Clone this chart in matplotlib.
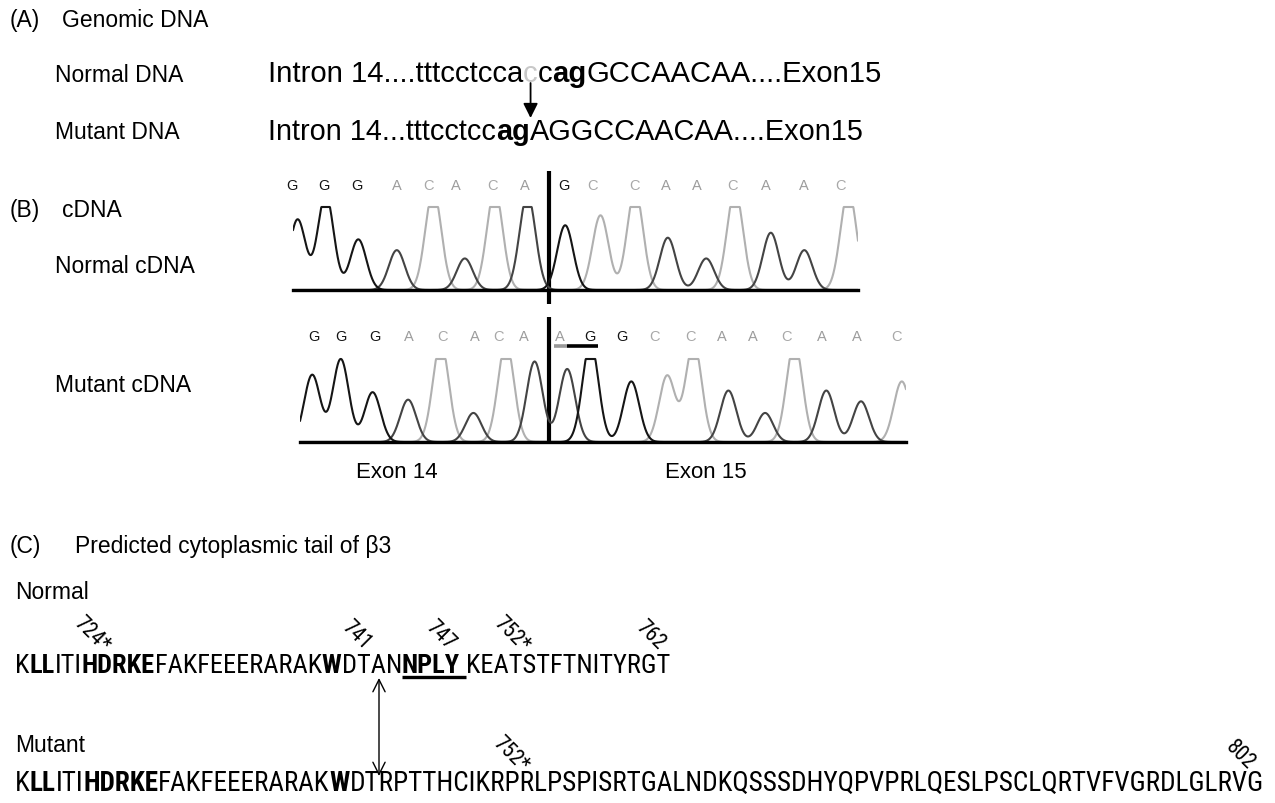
import matplotlib
matplotlib.use("Agg")
import matplotlib.pyplot as plt
import numpy as np
from matplotlib import font_manager
from matplotlib.font_manager import FontProperties

plt.rcParams['font.family'] = ['Liberation Sans', 'DejaVu Sans']

# ---------------- data ----------------
# (A) genomic DNA
normal_dna_runs = [("Intron 14....tttcctcca", "normal", "black"),
                   ("c", "normal", "#c8c8c8"),
                   ("c", "normal", "black"),
                   ("ag", "bold", "black"),
                   ("GCCAACAA....Exon15", "normal", "black")]
mutant_dna_runs = [("Intron 14...tttcctcc", "normal", "black"),
                   ("ag", "bold", "black"),
                   ("AGGCCAACAA....Exon15", "normal", "black")]

# (B) chromatograms: called bases and peaks (trace position, relative height)
normal_bases = list("GGGACACAGCCAACAAC")
normal_base_pos = [292, 324, 357, 397, 429, 456, 493, 525, 564, 593, 635, 666, 697, 733, 766, 804, 841]
normal_peak_pos = [297.6, 325.7, 358.3, 396.8, 433.3, 464.8, 494.8, 527.5, 565.2, 600.5,
                   635.1, 667.8, 706.2, 735.0, 770.8, 804.3, 848.5]
normal_peak_h = [0.85, 1.15, 0.61, 0.48, 1.2, 0.38, 1.2, 1.15, 0.78, 0.9,
                 1.2, 0.63, 0.38, 1.2, 0.69, 0.48, 1.2]

mutant_bases = list("GGGACACAAGGCCAACAAC")
mutant_base_pos = [314, 341, 375, 409, 442, 475, 498, 524, 560, 590, 622, 654, 691, 722, 753, 786, 822, 857, 896]
mutant_peak_pos = [312.2, 340.8, 372.6, 408.1, 440.8, 473.4, 506.0, 534.6, 567.2, 590.5,
                   631.3, 667.2, 693.7, 728.4, 765.1, 794.5, 826.3, 861.0, 901.8]
mutant_peak_h = [0.81, 1.0, 0.6, 0.51, 1.2, 0.35, 1.2, 0.97, 0.88, 1.2,
                 0.73, 0.8, 1.2, 0.62, 0.35, 1.2, 0.62, 0.49, 0.73]

# (C) protein sequences
normal_prot_runs = [("K", "normal"), ("LL", "bold"), ("ITI", "normal"), ("HDRKE", "bold"),
                    ("FAKFEEERARAK", "normal"), ("W", "bold"), ("DTAN", "normal"),
                    ("NPLY", "bold"), ("KEATSTFTNITYRGT", "normal")]
mutant_prot_runs = [("K", "normal"), ("LL", "bold"), ("ITI", "normal"), ("HDRKE", "bold"),
                    ("FAKFEEERARAK", "normal"), ("W", "bold"),
                    ("DTRPTTHCIKRPRLPSPISRTGALNDKQSSSDHYQPVPRLQESLPSCLQRTVFVGRDLGLRVG", "normal")]
normal_marks = ["724*", "741", "747", "752*", "762"]
normal_mark_x = [92, 356, 440, 512, 650]
mutant_marks = ["752*", "802"]
mutant_mark_x = [511, 1240]

base_colors = {"G": "#151515", "A": "#444444", "C": "#b0b0b0"}
letter_colors = {"G": "#151515", "A": "#9c9c9c", "C": "#a8a8a8"}


# ---------------- narrow font lookup ----------------
def _is_bold(w):
    if isinstance(w, str):
        return w in ('bold', 'heavy', 'black', 'extra bold', 'semibold', 'demibold')
    return w >= 600


def find_narrow():
    prefs = ['Liberation Sans Narrow', 'Arial Narrow', 'Roboto Condensed', 'Open Sans Condensed',
             'Noto Sans Condensed', 'Noto Sans', 'Open Sans', 'Roboto', 'DejaVu Sans Condensed',
             'DejaVu Sans']
    cand = {}
    for f in font_manager.fontManager.ttflist:
        narrow = (f.stretch in ('condensed', 'semi-condensed', 'extra-condensed')
                  or 'Narrow' in f.name or 'Condensed' in f.name)
        if not narrow or f.style != 'normal':
            continue
        if 'Mono' in f.name or 'Serif' in f.name:
            continue
        fam = cand.setdefault(f.name, {})
        key = 'bold' if _is_bold(f.weight) else 'normal'
        w = f.weight if not isinstance(f.weight, str) else (700 if key == 'bold' else 400)
        target = 700 if key == 'bold' else 400
        if key not in fam or abs(w - target) < abs(fam[key][1] - target):
            fam[key] = (f.fname, w)
    for p in prefs:
        if p in cand and 'normal' in cand[p] and 'bold' in cand[p]:
            return cand[p]['normal'][0], cand[p]['bold'][0]
    return None


_nar = find_narrow()


def seq_fp(weight, size):
    if _nar is None:
        return FontProperties(family='Liberation Sans', weight=weight, size=size)
    return FontProperties(fname=_nar[1] if weight == 'bold' else _nar[0], size=size)


# ---------------- figure ----------------
W, H = 1275, 804
fig = plt.figure(figsize=(W / 100, H / 100), dpi=100)
ax = fig.add_axes([0, 0, 1, 1])
ax.set_xlim(0, W)
ax.set_ylim(H, 0)
ax.axis('off')
renderer = fig.canvas.get_renderer()


def fp_for(family, weight, size):
    if family == 'SEQ':
        return seq_fp(weight, size)
    return FontProperties(family=family, weight=weight, size=size)


def widths(runs, size, family):
    out = []
    for s, wgt in runs:
        t = ax.text(0, 0, s, fontproperties=fp_for(family, wgt, size))
        out.append(t.get_window_extent(renderer).width)
        t.remove()
    return out


def draw_runs(x0, yb, runs, colors, target, size0, family, gaps=None):
    gaps = gaps or {}
    ws = widths(runs, size0, family)
    extra = sum(gaps.values())
    size = size0 * (target - extra) / sum(ws)
    ws = widths(runs, size, family)
    x = x0
    spans = []
    for i, ((s, wgt), w) in enumerate(zip(runs, ws)):
        ax.text(x, yb, s, fontproperties=fp_for(family, wgt, size), color=colors[i],
                va='baseline', ha='left')
        spans.append((x, x + w))
        x += w + gaps.get(i, 0)
    return spans, size


LBL = 16.5
# (A)
ax.text(10, 27, "(A)", fontsize=LBL, va='baseline')
ax.text(62, 27, "Genomic DNA", fontsize=LBL, va='baseline')
ax.text(55, 82, "Normal DNA", fontsize=LBL, va='baseline')
ax.text(55, 139, "Mutant DNA", fontsize=LBL, va='baseline')

sp_n, _ = draw_runs(268, 82, [(s, w) for s, w, c in normal_dna_runs],
                    [c for s, w, c in normal_dna_runs], 612, 21, 'Liberation Sans')
sp_m, _ = draw_runs(268, 140, [(s, w) for s, w, c in mutant_dna_runs],
                    [c for s, w, c in mutant_dna_runs], 594, 21, 'Liberation Sans')
xg = (sp_n[1][0] + sp_n[1][1]) / 2
ax.annotate('', xy=(xg, 119), xytext=(xg, 84),
            arrowprops=dict(arrowstyle='-|>', color='black', lw=1.3, mutation_scale=22,
                            shrinkA=0, shrinkB=0))

# (B)
ax.text(10, 217, "(B)", fontsize=LBL, va='baseline')
ax.text(62, 217, "cDNA", fontsize=LBL, va='baseline')
ax.text(55, 273, "Normal cDNA", fontsize=LBL, va='baseline')
ax.text(55, 392, "Mutant cDNA", fontsize=LBL, va='baseline')
ax.text(397, 478, "Exon 14", fontsize=16, ha='center', va='baseline')
ax.text(706, 478, "Exon 15", fontsize=16, ha='center', va='baseline')


def chromatogram(x0, x1, ybase, ytop, bases, peak_pos, peak_h, sigma=8.0):
    top = 1.06
    hpx = (ybase - ytop) * top
    cax = fig.add_axes([x0 / W, 1 - ybase / H, (x1 - x0) / W, hpx / H])
    cax.set_xlim(x0, x1)
    cax.set_ylim(0, top)
    for s in ['top', 'right', 'left']:
        cax.spines[s].set_visible(False)
    cax.spines['bottom'].set_linewidth(2.4)
    cax.spines['bottom'].set_color('black')
    cax.set_xticks([])
    cax.set_yticks([])
    cax.patch.set_alpha(0)
    xs = np.linspace(x0, x1, 2000)
    for ch in ["C", "A", "G"]:
        ys = np.zeros_like(xs)
        for b, p, h in zip(bases, peak_pos, peak_h):
            if b == ch:
                ys += h * np.exp(-0.5 * ((xs - p) / sigma) ** 2)
        ys = np.minimum(ys, 1.0)
        cax.plot(xs, ys, color=base_colors[ch], lw=1.5, solid_capstyle='round')
    return cax


chromatogram(293, 858, 291, 208, normal_bases, normal_peak_pos, normal_peak_h)
chromatogram(300, 906, 443, 360, mutant_bases, mutant_peak_pos, mutant_peak_h)

for b, x in zip(normal_bases, normal_base_pos):
    ax.text(x, 186, b, fontsize=10.5, color=letter_colors[b], ha='center', va='center')
for b, x in zip(mutant_bases, mutant_base_pos):
    ax.text(x, 337, b, fontsize=10.5, color=letter_colors[b], ha='center', va='center')

# splice junction lines
ax.plot([549, 549], [172, 305], color='black', lw=3.0, solid_capstyle='butt')
ax.plot([549, 549], [318, 445], color='black', lw=3.0, solid_capstyle='butt')
# AG underline in mutant
ax.plot([554, 567], [347, 347], color='#999999', lw=2.6, solid_capstyle='butt')
ax.plot([567, 598], [347, 347], color='black', lw=2.6, solid_capstyle='butt')

# (C)
ax.text(10, 553, "(C)", fontsize=LBL, va='baseline')
ax.text(75, 553, "Predicted cytoplasmic tail of \u03b23", fontsize=LBL, va='baseline')
ax.text(15, 599, "Normal", fontsize=LBL, va='baseline')
ax.text(15, 752, "Mutant", fontsize=LBL, va='baseline')

gap = 6
sp_np, psz = draw_runs(15, 673, normal_prot_runs, ['black'] * len(normal_prot_runs),
                       657, 20, 'SEQ', gaps={7: gap})
sp_mp, _ = draw_runs(15, 791, mutant_prot_runs, ['black'] * len(mutant_prot_runs),
                     1250, 20, 'SEQ')
# NPLY underline
ax.plot([sp_np[7][0], sp_np[7][1] + gap], [678, 678], color='black', lw=2.4, solid_capstyle='butt')

for s, x in zip(normal_marks, normal_mark_x):
    ax.text(x, 635, s, rotation=-45, ha='center', va='center', rotation_mode='anchor',
            fontproperties=seq_fp('normal', 15.5))
for s, x in zip(mutant_marks, mutant_mark_x):
    ax.text(x, 755, s, rotation=-45, ha='center', va='center', rotation_mode='anchor',
            fontproperties=seq_fp('normal', 15.5))

ax.annotate('', xy=(379, 679), xytext=(379, 777),
            arrowprops=dict(arrowstyle='<->', color='black', lw=1.0, mutation_scale=22,
                            shrinkA=0, shrinkB=0))

fig.savefig("out.png", dpi=100)
